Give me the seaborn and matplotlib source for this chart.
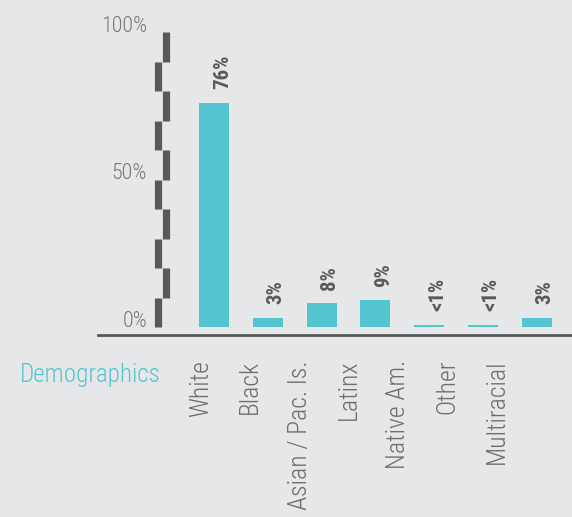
import matplotlib
matplotlib.use("Agg")
import matplotlib.pyplot as plt
import matplotlib.transforms as mtransforms
import seaborn as sns
import pandas as pd

# Data
categories = ["White", "Black", "Asian / Pac. Is.", "Latinx", "Native Am.", "Other", "Multiracial"]
shares = [76, 3, 8, 9, 0.8, 0.8, 3]
y_ticks = [0, 50, 100]
y_tick_labels = ["0%", "50%", "100%"]
section_title = "Demographics"

BG = "#E6E7E9"
TEAL = "#52C5D1"
DARK = "#58595B"

sns.set_theme(style="white")
plt.rcParams["font.family"] = ["Roboto Condensed", "Roboto", "DejaVu Sans"]

fig = plt.figure(figsize=(5.72, 5.17), dpi=100, facecolor=BG)
ax = fig.add_axes([98 / 572, 182 / 517, 474 / 572, 305 / 517])
ax.set_facecolor(BG)

df = pd.DataFrame({"group": categories, "share": shares})
sns.barplot(data=df, x="group", y="share", color=TEAL, saturation=1,
            width=0.56, linewidth=0, edgecolor=TEAL, ax=ax)

ax.set_xlim(-2.156, 6.654)
ax.set_ylim(-2.7, 100.7)

# spines: only the baseline rule
for side in ("left", "right", "top"):
    ax.spines[side].set_visible(False)
ax.spines["bottom"].set_color(DARK)
ax.spines["bottom"].set_linewidth(2)
ax.set_xlabel("")
ax.set_ylabel("")

# category labels, rotated, set on their own slightly tighter spacing
label_pos = [i * 0.915 - 0.24 for i in range(len(categories))]
ax.set_xticks(label_pos)
ax.set_xticklabels(categories, rotation=90, fontsize=18.5, color="#6D6E70",
                   fontweight="light")
ax.tick_params(axis="x", length=0, pad=18)

# y axis: hidden default ticks, custom zigzag rule and labels
ax.set_yticks([])
step = 10
for k in range(10):
    xseg = -1.032 if k % 2 == 0 else -0.901
    ax.plot([xseg, xseg], [k * step, (k + 1) * step], color=DARK, lw=5.2,
            solid_capstyle="butt", clip_on=False, zorder=3)

lift = mtransforms.offset_copy(ax.transData, fig=fig, x=0, y=6, units="dots")
for v, t in zip(y_ticks, y_tick_labels):
    ax.text(-1.245, v, t, transform=lift, ha="right", va="center",
            fontsize=15.8, color="#77787A", fontweight="light")

# value labels above each bar
for i, v in enumerate(shares):
    txt = "<1%" if v < 1 else f"{v:g}%"
    ax.annotate(txt, xy=(i, v), xytext=(6, 10), textcoords="offset points",
                rotation=90, ha="center", va="bottom", fontsize=15,
                fontweight="bold", color=DARK)

fig.text(20 / 572, (517 - 382) / 517, section_title, ha="left", va="baseline",
         fontsize=18, color=TEAL, fontweight="light")

fig.savefig("out.png", dpi=100, facecolor=BG)
